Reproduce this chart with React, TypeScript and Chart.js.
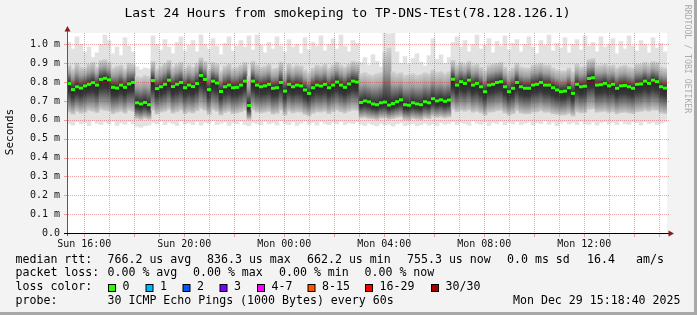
import React, { useEffect, useRef } from 'react';
import { Chart, registerables } from 'chart.js';

Chart.register(...registerables);

// ---- data (microseconds), one value per 9.6-minute column, Sun 15:18:40 -> Mon 15:18:40 ----
const medianRtt = [
  792, 760, 775, 768, 780, 788, 797, 784, 814, 820,
  812, 772, 768, 784, 772, 790, 798, 690, 684, 692,
  680, 808, 765, 775, 788, 810, 776, 788, 798, 770,
  784, 776, 792, 835, 814, 760, 805, 795, 750, 775,
  784, 770, 772, 784, 805, 676, 805, 784, 775, 780,
  788, 767, 770, 798, 752, 788, 775, 784, 780, 758,
  740, 770, 784, 779, 788, 770, 784, 800, 784, 772,
  790, 805, 800, 692, 700, 695, 684, 680, 690, 694,
  678, 686, 696, 706, 680, 677, 690, 684, 680, 696,
  690, 712, 700, 706, 698, 705, 815, 784, 802, 793,
  810, 784, 793, 775, 749, 784, 788, 798, 802, 775,
  749, 767, 798, 775, 767, 767, 784, 788, 798, 784,
  784, 770, 758, 749, 752, 770, 740, 788, 775, 778,
  819, 823, 784, 786, 793, 780, 788, 767, 780, 782,
  775, 767, 788, 790, 805, 793, 810, 802, 775, 768,
];

const smokeMax = [
  1010, 975, 1040, 1000, 960, 985, 930, 955, 1000, 1050,
  1020, 950, 985, 940, 1035, 990, 960, 880, 865, 875,
  870, 1045, 1000, 970, 1025, 985, 950, 1010, 1040, 965,
  995, 1020, 960, 1050, 1000, 975, 1030, 990, 945, 1005,
  1040, 965, 990, 1020, 985, 1045, 970, 1050, 995, 955,
  1010, 975, 1040, 990, 960, 1025, 985, 1000, 950, 1035,
  970, 1010, 990, 1045, 965, 1000, 1030, 975, 1050, 990,
  960, 1020, 1005, 905, 930, 890, 945, 910, 880, 1060,
  1055, 1060, 960, 900, 935, 895, 925, 950, 905, 885,
  940, 1030, 920, 945, 900, 930, 1010, 1040, 985, 1020,
  960, 1000, 1050, 975, 995, 1030, 955, 1015, 990, 1045,
  970, 1005, 1025, 960, 1000, 1040, 985, 950, 1020, 995,
  1050, 965, 1005, 980, 1035, 955, 1000, 1025, 970, 1045,
  990, 1010, 960, 1040, 985, 1000, 1030, 950, 1015, 975,
  1045, 990, 965, 1020, 1000, 955, 1035, 980, 1005, 960,
];

const smokeMin = [
  580, 572, 590, 578, 585, 570, 595, 582, 575, 588,
  578, 592, 570, 584, 576, 590, 580, 565, 560, 568,
  572, 585, 578, 592, 574, 586, 580, 570, 594, 578,
  583, 575, 590, 572, 586, 580, 595, 574, 582, 588,
  570, 584, 578, 592, 575, 568, 586, 580, 574, 590,
  578, 584, 572, 596, 580, 575, 588, 570, 582, 592,
  576, 585, 572, 590, 580, 574, 586, 578, 592, 575,
  584, 580, 588, 576, 570, 582, 574, 568, 580, 572,
  576, 566, 578, 584, 570, 575, 580, 568, 574, 582,
  572, 578, 570, 584, 576, 580, 590, 575, 586, 580,
  572, 594, 582, 576, 588, 570, 585, 580, 592, 574,
  586, 578, 590, 575, 582, 588, 572, 584, 580, 594,
  576, 586, 570, 582, 590, 578, 585, 574, 592, 580,
  576, 588, 572, 584, 590, 578, 586, 574, 592, 580,
  576, 588, 584, 572, 590, 580, 586, 575, 582, 588,
];

const coreHigh = [
  890, 870, 900, 880, 875, 895, 905, 880, 915, 920,
  905, 875, 885, 890, 870, 900, 895, 830, 825, 835,
  830, 910, 870, 885, 900, 915, 880, 895, 905, 875,
  890, 880, 900, 930, 910, 870, 905, 895, 860, 885,
  895, 875, 880, 890, 905, 830, 910, 890, 880, 885,
  895, 870, 875, 905, 860, 895, 880, 890, 885, 865,
  850, 875, 890, 885, 895, 875, 890, 905, 890, 880,
  895, 910, 905, 845, 850, 840, 835, 845, 850, 960,
  980, 855, 845, 850, 835, 840, 845, 835, 840, 850,
  845, 865, 850, 855, 845, 855, 915, 890, 905, 895,
  910, 890, 895, 880, 860, 890, 895, 900, 905, 880,
  860, 875, 900, 880, 875, 875, 890, 895, 900, 890,
  890, 875, 865, 860, 860, 875, 855, 895, 880, 885,
  920, 925, 890, 890, 895, 885, 890, 875, 885, 890,
  880, 875, 895, 895, 905, 895, 910, 905, 880, 875,
];

const coreLow = [
  640, 630, 645, 635, 640, 650, 645, 638, 655, 650,
  648, 632, 640, 645, 635, 650, 645, 605, 600, 608,
  602, 650, 630, 640, 645, 655, 635, 642, 650, 632,
  640, 636, 648, 660, 650, 628, 652, 645, 625, 638,
  645, 632, 636, 642, 650, 600, 652, 640, 636, 640,
  645, 630, 634, 650, 625, 645, 636, 642, 640, 628,
  620, 634, 642, 640, 645, 632, 642, 650, 642, 636,
  645, 652, 650, 610, 612, 606, 604, 600, 608, 610,
  602, 606, 612, 615, 600, 598, 606, 602, 600, 610,
  606, 618, 612, 615, 610, 614, 655, 642, 650, 645,
  652, 640, 645, 636, 624, 640, 642, 648, 650, 636,
  624, 632, 648, 636, 632, 632, 640, 642, 648, 640,
  640, 632, 628, 624, 626, 632, 620, 642, 636, 638,
  655, 658, 640, 642, 645, 638, 642, 632, 638, 640,
  636, 632, 642, 644, 650, 645, 652, 650, 636, 632,
];

// ---- axis ticks and labels ----
const hourTicks = [16, 17, 18, 19, 20, 21, 22, 23, 24, 25, 26, 27, 28, 29, 30, 31, 32, 33, 34, 35, 36, 37, 38, 39];
const xLabelHours = [16, 20, 24, 28, 32, 36];
const xTickLabels = ['Sun 16:00', 'Sun 20:00', 'Mon 00:00', 'Mon 04:00', 'Mon 08:00', 'Mon 12:00'];
const yTickValues = [0, 100, 200, 300, 400, 500, 600, 700, 800, 900, 1000];
const yTickLabels = ['0.0', '0.1 m', '0.2 m', '0.3 m', '0.4 m', '0.5 m', '0.6 m', '0.7 m', '0.8 m', '0.9 m', '1.0 m'];

// ---- legend texts ----
const titleText = 'Last 24 Hours from smokeping to TP-DNS-TEst(78.128.126.1)';
const rttStats = ['766.2 us avg', '836.3 us max', '662.2 us min', '755.3 us now', '0.0 ms sd', '16.4', 'am/s'];
const lossStats = ['0.00 % avg', '0.00 % max', '0.00 % min', '0.00 % now'];
const lossColorLabels = ['0', '1', '2', '3', '4-7', '8-15', '16-29', '30/30'];
const lossColors = ['#26ff00', '#00b8ff', '#0059ff', '#7e00ff', '#ff00ff', '#ff5500', '#ff0000', '#a10000'];
const probeText = '30 ICMP Echo Pings (1000 Bytes) every 60s';
const stampText = 'Mon Dec 29 15:18:40 2025';

// ---- layout ----
const W = 697;
const H = 315;
const MONO = '"DejaVu Sans Mono", monospace';
const START_MIN = 15 * 60 + 18 + 40 / 60; // minutes after Sun 00:00
const SPAN_MIN = 1440;
const COLUMN_MIN = SPAN_MIN / medianRtt.length;
const PINK = 'rgba(220, 30, 30, 0.4)';
const GRAY = 'rgba(120, 120, 120, 0.45)';
const rttX = [107.5, 207, 307, 407, 507, 587, 636];
const lossX = [107.5, 193, 279, 364.5];
const boxX = [108, 145.5, 182.5, 219.5, 257, 307.5, 365, 431];
const rowY = [259.5, 273, 287, 301];

const framePlugin = {
  id: 'rrdFrame',
  beforeDraw(chart: any) {
    const { ctx, chartArea: a } = chart;
    ctx.save();
    ctx.fillStyle = '#f3f3f3';
    ctx.fillRect(0, 0, W, H);
    ctx.fillStyle = '#ffffff';
    ctx.fillRect(a.left, a.top, a.right - a.left, a.bottom - a.top);
    ctx.restore();
  },
  // dotted grid over the smoke, under the median line
  beforeDatasetDraw(chart: any, args: any) {
    if (args.index !== 2) return;
    const { ctx, chartArea: a, scales } = chart;
    const top = Math.round(a.top);
    const bottom = Math.round(a.bottom);
    const left = Math.round(a.left);
    const right = Math.round(a.right);
    ctx.save();
    hourTicks.forEach((h) => {
      const x = Math.floor(scales.x.getPixelForValue(h * 60 - START_MIN));
      ctx.fillStyle = h % 2 === 0 ? PINK : GRAY;
      for (let y = top; y < bottom; y += 2) ctx.fillRect(x, y, 1, 1);
      ctx.fillRect(x, bottom + 1, 1, 3);
    });
    ctx.fillStyle = PINK;
    yTickValues.forEach((v) => {
      const y = Math.round(scales.y.getPixelForValue(v));
      if (v !== 0) for (let x = left + 1; x < right + 2; x += 2) ctx.fillRect(x, y, 1, 1);
      ctx.fillRect(left - 3, y, 3, 1);
    });
    ctx.restore();
  },
  afterDraw(chart: any) {
    const { ctx, chartArea: a } = chart;
    ctx.save();
    // axes
    ctx.lineWidth = 1;
    ctx.setLineDash([]);
    ctx.strokeStyle = '#5a5a5a';
    ctx.beginPath();
    ctx.moveTo(a.left + 0.5, a.bottom + 3);
    ctx.lineTo(a.left + 0.5, a.top - 4);
    ctx.stroke();
    ctx.strokeStyle = '#000000';
    ctx.beginPath();
    ctx.moveTo(a.left - 3, a.bottom + 0.5);
    ctx.lineTo(a.right + 2, a.bottom + 0.5);
    ctx.stroke();
    ctx.fillStyle = '#8b1a1a';
    ctx.beginPath();
    ctx.moveTo(a.left + 0.5, a.top - 7);
    ctx.lineTo(a.left - 2.5, a.top - 1.5);
    ctx.lineTo(a.left + 3.5, a.top - 1.5);
    ctx.closePath();
    ctx.fill();
    ctx.beginPath();
    ctx.moveTo(a.right + 7, a.bottom + 0.5);
    ctx.lineTo(a.right + 1.5, a.bottom - 2.5);
    ctx.lineTo(a.right + 1.5, a.bottom + 3.5);
    ctx.closePath();
    ctx.fill();

    // title
    ctx.fillStyle = '#000000';
    ctx.textBaseline = 'middle';
    ctx.textAlign = 'center';
    ctx.font = `13px ${MONO}`;
    ctx.fillText(titleText, 347.5, 14);

    // y title
    ctx.save();
    ctx.translate(10, 132);
    ctx.rotate(-Math.PI / 2);
    ctx.font = `11px ${MONO}`;
    ctx.fillText('Seconds', 0, 0);
    ctx.restore();

    // watermark
    ctx.save();
    ctx.translate(687.5, 59);
    ctx.rotate(Math.PI / 2);
    ctx.font = `8.2px ${MONO}`;
    ctx.fillStyle = '#ababab';
    ctx.fillText('RRDTOOL / TOBI OETIKER', 0, 0);
    ctx.restore();

    // legend
    ctx.textAlign = 'left';
    ctx.font = `11.6px ${MONO}`;
    ctx.fillStyle = '#000000';
    ctx.fillText('median rtt:', 15.5, rowY[0]);
    rttStats.forEach((t, i) => ctx.fillText(t, rttX[i], rowY[0]));
    ctx.fillText('packet loss:', 15.5, rowY[1]);
    lossStats.forEach((t, i) => ctx.fillText(t, lossX[i], rowY[1]));
    ctx.fillText('loss color:', 15.5, rowY[2]);
    lossColorLabels.forEach((t, i) => {
      ctx.fillStyle = '#000000';
      ctx.fillRect(boxX[i], 284, 8, 8);
      ctx.fillStyle = lossColors[i];
      ctx.fillRect(boxX[i] + 1, 285, 6, 6);
      ctx.fillStyle = '#000000';
      ctx.fillText(t, boxX[i] + 14.5, rowY[2]);
    });
    ctx.fillText('probe:', 15.5, rowY[3]);
    ctx.fillText(probeText, 107.5, rowY[3]);
    ctx.textAlign = 'right';
    ctx.fillText(stampText, 680.5, rowY[3]);

    // 3d frame edges
    ctx.fillStyle = '#a8a8a8';
    ctx.fillRect(W - 3, 0, 3, H);
    ctx.fillRect(0, H - 3, W, 3);
    ctx.restore();
  },
};

export default function App() {
  const ref = useRef<HTMLCanvasElement>(null);

  useEffect(() => {
    const canvas = ref.current;
    if (!canvas) return;
    const xs = medianRtt.map((_, i) => (i + 0.5) * COLUMN_MIN);

    const coreFill = (c: any) => {
      const chart = c.chart;
      const y = chart.scales && chart.scales.y;
      if (c.type !== 'data' || !y || !chart.chartArea) return '#8a8a8a';
      const i = c.dataIndex;
      const top = y.getPixelForValue(coreHigh[i]);
      const bot = y.getPixelForValue(coreLow[i]);
      const mid = y.getPixelForValue(medianRtt[i]);
      if (!(bot > top)) return '#8a8a8a';
      let fm = (mid - top) / (bot - top);
      fm = Math.min(0.98, Math.max(0.02, fm));
      const g = chart.ctx.createLinearGradient(0, top, 0, bot);
      g.addColorStop(0, '#d0d0d0');
      g.addColorStop(fm * 0.4, '#a0a0a0');
      g.addColorStop(fm * 0.75, '#585858');
      g.addColorStop(fm, '#262626');
      g.addColorStop(fm + (1 - fm) * 0.3, '#383838');
      g.addColorStop(fm + (1 - fm) * 0.62, '#7a7a7a');
      g.addColorStop(1, '#cacaca');
      return g;
    };

    const chart = new Chart(canvas, {
      type: 'bar',
      data: {
        datasets: [
          {
            type: 'bar',
            label: 'smoke',
            data: xs.map((x, i) => ({ x, y: [smokeMin[i], smokeMax[i]] })) as any,
            backgroundColor: '#e2e2e2',
            borderWidth: 0,
            barThickness: 4,
            grouped: false,
            order: 3,
          },
          {
            type: 'bar',
            label: 'core',
            data: xs.map((x, i) => ({ x, y: [coreLow[i], coreHigh[i]] })) as any,
            backgroundColor: coreFill,
            borderWidth: 0,
            barThickness: 4,
            grouped: false,
            order: 2,
          },
          {
            type: 'line',
            label: 'median rtt',
            data: xs.map((x, i) => ({ x, y: medianRtt[i] })) as any,
            showLine: false,
            pointStyle: 'line',
            pointRadius: 2,
            pointBorderWidth: 3,
            pointBorderColor: '#26ff00',
            pointBackgroundColor: '#26ff00',
            borderColor: '#26ff00',
            order: 1,
          },
        ],
      } as any,
      options: {
        responsive: false,
        animation: false,
        devicePixelRatio: 1,
        events: [],
        layout: { padding: { left: 0, top: 33, right: 30, bottom: 0 } },
        plugins: { legend: { display: false }, tooltip: { enabled: false }, title: { display: false } },
        scales: {
          x: {
            type: 'linear',
            min: 0,
            max: SPAN_MIN,
            offset: false,
            afterBuildTicks: (s: any) => {
              s.ticks = hourTicks.map((h) => ({ value: h * 60 - START_MIN }));
            },
            afterFit: (s: any) => {
              s.height = 82;
            },
            ticks: {
              autoSkip: false,
              maxRotation: 0,
              minRotation: 0,
              padding: 5,
              color: '#111111',
              font: { family: MONO, size: 10 },
              callback: (_v: any, i: number) => {
                const k = xLabelHours.indexOf(hourTicks[i]);
                return k >= 0 ? xTickLabels[k] : '';
              },
            },
            grid: { display: false, drawTicks: false, offset: false },
            border: { display: false },
          },
          y: {
            type: 'linear',
            min: 0,
            max: 1060,
            afterBuildTicks: (s: any) => {
              s.ticks = yTickValues.map((v) => ({ value: v }));
            },
            afterFit: (s: any) => {
              s.width = 67;
            },
            ticks: {
              padding: 7,
              color: '#111111',
              font: { family: MONO, size: 10 },
              callback: (_v: any, i: number) => yTickLabels[i],
            },
            grid: { display: false, drawTicks: false },
            border: { display: false },
          },
        },
      } as any,
      plugins: [framePlugin],
    });
    return () => chart.destroy();
  }, []);

  return (
    <div style={{ position: 'fixed', left: 0, top: 0, width: W, height: H, background: '#f3f3f3' }}>
      <canvas ref={ref} width={W} height={H} style={{ display: 'block', width: W, height: H }} />
    </div>
  );
}
